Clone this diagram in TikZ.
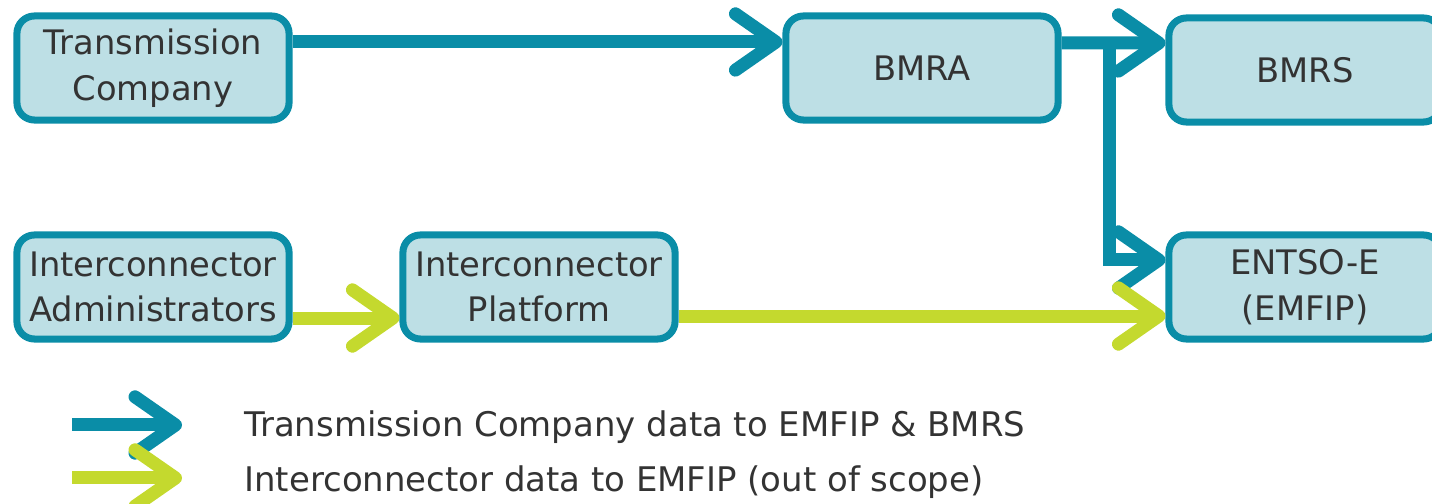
\documentclass[tikz,border=0pt]{standalone}
\usepackage{fontspec}
\setmainfont{DejaVu Sans}
\usetikzlibrary{arrows.meta}

\definecolor{flowblue}{HTML}{0A8DA7}
\definecolor{flowgreen}{HTML}{C4D92E}
\definecolor{boxfill}{HTML}{BDDFE5}
\definecolor{labelgrey}{HTML}{333333}

\tikzset{
  unit/.style={draw=flowblue, fill=boxfill, line width=2pt, rounded corners=5pt,
    minimum width=2.72cm, minimum height=1.04cm, align=center, text=labelgrey,
    font=\fontsize{9.6}{13}\selectfont},
  chevron/.style={-{Straight Barb[length=11.5pt,width=16pt,line cap=round,line join=round]},
    line width=3.7pt},
  tcflow/.style={chevron, draw=flowblue},
  icflow/.style={chevron, draw=flowgreen},
  legendtext/.style={anchor=west, text=labelgrey, font=\fontsize{9.65}{12}\selectfont},
}

\begin{document}
\begin{tikzpicture}[x=0.01cm,y=-0.01cm]
    \useasboundingbox (0,0) rectangle (1432,504);

    % Boxes
    \node[unit] (tc) at (153,68) {Transmission\\Company};
    \node[unit] (bmra) at (922,68) {BMRA};
    \node[unit] (bmrs) at (1305,70) {BMRS};
    \node[unit] (icadmin) at (153,287) {Interconnector\\Administrators};
    \node[unit] (icplat) at (539,287) {Interconnector\\Platform};
    \node[unit] (entso) at (1305,287) {ENTSO-E\\(EMFIP)};

    % Transmission Company data
    \draw[tcflow] ([yshift=0.26cm]tc.east) -- ([yshift=0.26cm]bmra.west);
    \coordinate (split) at ([xshift=0.48cm,yshift=0.25cm]bmra.east);
    \draw[tcflow] ([yshift=0.25cm]bmra.east) -- ([yshift=0.27cm]bmrs.west);
    \draw[tcflow] (split) |- ([yshift=0.27cm]entso.west);

    % Interconnector data
    \draw[icflow] ([yshift=-0.31cm]icadmin.east) -- ([yshift=-0.31cm]icplat.west);
    \draw[icflow] ([yshift=-0.29cm]icplat.east) -- ([yshift=-0.29cm]entso.west);

    % Legend
    \coordinate (tckeyA) at (72,425);
    \coordinate (tckeyB) at (182,425);
    \coordinate (ickeyA) at (72,478);
    \coordinate (ickeyB) at (182,478);
    \draw[tcflow] (tckeyA) -- (tckeyB);
    \draw[icflow] (ickeyA) -- (ickeyB);
    \node[legendtext] (tckey) at (232,427) {Transmission Company data to EMFIP \& BMRS};
    \node[legendtext] (ickey) at (232,482) {Interconnector data to EMFIP (out of scope)};
\end{tikzpicture}
\end{document}
